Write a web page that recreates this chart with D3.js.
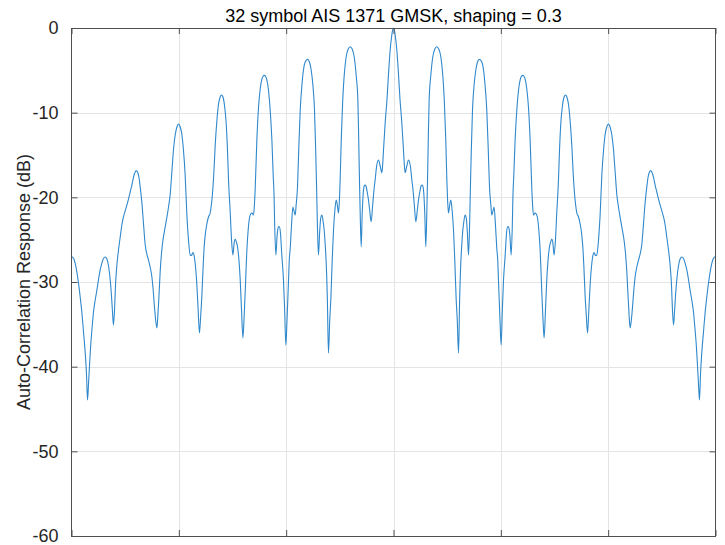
<!DOCTYPE html>
<html>
<head>
<meta charset="utf-8">
<script src="https://cdn.jsdelivr.net/npm/d3@7"></script>
<style>
  html, body { margin: 0; padding: 0; background: #fff; }
  svg { display: block; }
</style>
</head>
<body>
<svg id="chart" width="725" height="545"></svg>
<script>
// ---- data (lag in samples, response in dB) ----
const lagsLeft = [-30.00,-29.80,-29.66,-29.50,-29.35,-29.19,-29.03,-28.88,-28.72,-28.60,-28.51,-28.42,-28.32,-28.21,-28.10,-27.95,-27.79,-27.63,-27.49,-27.33,-27.17,-27.02,-26.86,-26.70,-26.55,-26.40,-26.28,-26.18,-26.09,-25.99,-25.90,-25.77,-25.62,-25.46,-25.31,-25.16,-25.00,-24.84,-24.69,-24.53,-24.37,-24.22,-24.07,-23.97,-23.85,-23.72,-23.60,-23.44,-23.29,-23.13,-22.98,-22.83,-22.67,-22.51,-22.39,-22.27,-22.16,-22.04,-21.95,-21.86,-21.74,-21.62,-21.49,-21.27,-21.11,-20.96,-20.81,-20.65,-20.50,-20.34,-20.18,-20.03,-19.87,-19.71,-19.57,-19.41,-19.25,-19.10,-18.94,-18.82,-18.69,-18.57,-18.48,-18.32,-18.20,-18.08,-17.96,-17.85,-17.73,-17.64,-17.52,-17.39,-17.24,-17.08,-16.97,-16.86,-16.75,-16.61,-16.45,-16.30,-16.15,-16.03,-15.89,-15.75,-15.59,-15.45,-15.37,-15.21,-15.09,-14.96,-14.84,-14.75,-14.64,-14.53,-14.40,-14.28,-14.16,-14.03,-13.93,-13.82,-13.72,-13.66,-13.54,-13.42,-13.30,-13.19,-13.12,-13.04,-12.96,-12.89,-12.73,-12.58,-12.42,-12.26,-12.14,-12.05,-11.93,-11.80,-11.65,-11.49,-11.33,-11.21,-11.13,-11.07,-10.96,-10.84,-10.74,-10.65,-10.54,-10.40,-10.25,-10.14,-10.03,-9.92,-9.78,-9.72,-9.62,-9.50,-9.37,-9.27,-9.16,-9.07,-8.94,-8.83,-8.69,-8.53,-8.39,-8.23,-8.01,-7.83,-7.67,-7.51,-7.36,-7.25,-7.17,-7.09,-6.99,-6.88,-6.78,-6.67,-6.55,-6.46,-6.36,-6.27,-6.16,-6.06,-5.94,-5.83,-5.71,-5.59,-5.46,-5.34,-5.25,-5.12,-5.04,-4.97,-4.87,-4.73,-4.59,-4.41,-4.22,-4.03,-3.85,-3.66,-3.48,-3.32,-3.24,-3.17,-3.10,-3.01,-2.92,-2.82,-2.73,-2.64,-2.54,-2.45,-2.33,-2.22,-2.08,-1.94,-1.80,-1.71,-1.57,-1.40,-1.24,-1.08,-1.01,-0.93,-0.77,-0.61,-0.47,-0.31,-0.17,-0.08,0.00];
const dbLeft = [-26.99,-27.22,-27.76,-28.82,-30.12,-31.77,-33.66,-35.91,-38.39,-40.98,-43.94,-42.17,-39.80,-37.44,-35.67,-33.54,-32.13,-30.94,-29.76,-28.58,-27.76,-27.22,-27.05,-27.28,-28.11,-29.65,-31.54,-33.54,-35.08,-33.31,-30.35,-27.99,-26.22,-24.68,-23.27,-22.32,-21.61,-20.91,-20.20,-19.37,-18.54,-17.60,-17.01,-16.85,-17.01,-17.60,-18.78,-20.67,-23.15,-25.63,-26.69,-27.40,-28.23,-29.41,-30.94,-32.95,-34.49,-35.43,-33.90,-31.89,-28.82,-26.69,-25.16,-23.50,-22.32,-21.14,-19.72,-17.01,-14.41,-12.64,-11.69,-11.34,-11.69,-12.64,-14.41,-17.36,-22.09,-25.04,-26.81,-26.87,-26.52,-26.93,-27.76,-30.35,-33.31,-36.02,-33.90,-31.54,-27.99,-25.87,-24.21,-23.15,-22.32,-21.85,-20.91,-19.49,-17.36,-13.82,-10.87,-8.98,-8.15,-7.91,-8.15,-9.09,-11.22,-15.00,-17.95,-21.85,-25.04,-26.81,-25.28,-24.92,-25.28,-25.87,-27.40,-29.76,-33.31,-36.61,-34.49,-31.30,-27.99,-26.22,-23.86,-22.44,-21.97,-21.85,-21.97,-22.09,-20.91,-19.13,-13.23,-9.45,-7.20,-6.02,-5.67,-5.59,-5.67,-6.14,-7.32,-9.69,-13.23,-17.36,-19.72,-23.27,-26.81,-24.45,-23.56,-23.44,-24.09,-26.93,-29.76,-33.31,-37.44,-34.49,-29.76,-27.64,-25.98,-23.27,-21.14,-21.61,-22.09,-20.91,-18.66,-14.41,-9.69,-6.73,-4.96,-4.02,-3.70,-4.02,-4.96,-6.73,-9.69,-14.41,-18.54,-23.27,-26.81,-24.09,-22.44,-22.09,-22.91,-23.86,-25.63,-27.76,-32.13,-38.39,-34.49,-31.77,-27.40,-23.86,-21.50,-20.31,-20.79,-21.85,-20.31,-17.95,-13.23,-8.50,-5.55,-3.43,-2.48,-2.21,-2.48,-3.43,-5.55,-8.50,-13.23,-17.95,-22.09,-25.83,-22.09,-19.49,-18.66,-18.54,-18.78,-19.37,-20.31,-21.50,-22.88,-20.91,-18.90,-17.95,-16.30,-15.59,-16.30,-17.09,-16.18,-14.41,-11.10,-8.50,-5.55,-2.60,-0.94,-0.25,0.00];
const lagsRight = [0.08,0.17,0.31,0.47,0.61,0.77,0.93,1.01,1.08,1.24,1.40,1.57,1.71,1.80,1.94,2.08,2.22,2.33,2.45,2.54,2.64,2.73,2.82,2.92,3.01,3.10,3.17,3.24,3.32,3.48,3.66,3.85,4.03,4.22,4.41,4.59,4.73,4.87,4.97,5.04,5.12,5.25,5.34,5.46,5.59,5.71,5.83,5.94,6.06,6.16,6.27,6.36,6.46,6.55,6.67,6.78,6.88,6.99,7.09,7.17,7.25,7.36,7.51,7.67,7.83,8.01,8.23,8.39,8.53,8.69,8.83,8.94,9.07,9.16,9.27,9.37,9.50,9.62,9.72,9.78,9.92,10.03,10.14,10.25,10.40,10.54,10.65,10.74,10.84,10.96,11.07,11.13,11.21,11.33,11.49,11.65,11.80,11.93,12.05,12.14,12.26,12.42,12.58,12.73,12.89,12.96,13.04,13.12,13.19,13.30,13.42,13.54,13.66,13.72,13.82,13.93,14.03,14.16,14.28,14.40,14.53,14.64,14.75,14.84,14.96,15.09,15.21,15.37,15.45,15.59,15.75,15.89,16.03,16.15,16.30,16.45,16.61,16.75,16.86,16.97,17.08,17.24,17.39,17.52,17.64,17.73,17.85,17.96,18.08,18.20,18.32,18.48,18.57,18.69,18.82,18.94,19.10,19.25,19.41,19.57,19.71,19.87,20.03,20.18,20.34,20.50,20.65,20.81,20.96,21.11,21.27,21.49,21.62,21.74,21.86,21.95,22.04,22.16,22.27,22.39,22.51,22.67,22.83,22.98,23.13,23.29,23.44,23.60,23.72,23.85,23.97,24.07,24.22,24.37,24.53,24.69,24.84,25.00,25.16,25.31,25.46,25.62,25.77,25.90,25.99,26.09,26.18,26.28,26.40,26.55,26.70,26.86,27.02,27.17,27.33,27.49,27.63,27.79,27.95,28.10,28.21,28.32,28.42,28.51,28.60,28.72,28.88,29.03,29.19,29.35,29.50,29.66,29.80,30.00];
const dbRight = [-0.25,-0.94,-2.60,-5.55,-8.50,-11.10,-14.41,-16.18,-17.09,-16.30,-15.59,-16.30,-17.95,-18.90,-20.91,-22.88,-21.50,-20.31,-19.37,-18.78,-18.54,-18.66,-19.49,-22.09,-25.83,-22.09,-17.95,-13.23,-8.50,-5.55,-3.43,-2.48,-2.21,-2.48,-3.43,-5.55,-8.50,-13.23,-17.95,-20.31,-21.85,-20.79,-20.31,-21.50,-23.86,-27.40,-31.77,-34.49,-38.39,-32.13,-27.76,-25.63,-23.86,-22.91,-22.09,-22.44,-24.09,-26.81,-23.27,-18.54,-14.41,-9.69,-6.73,-4.96,-4.02,-3.70,-4.02,-4.96,-6.73,-9.69,-14.41,-18.66,-20.91,-22.09,-21.61,-21.14,-23.27,-25.98,-27.64,-29.76,-34.49,-37.44,-33.31,-29.76,-26.93,-24.09,-23.44,-23.56,-24.45,-26.81,-23.27,-19.72,-17.36,-13.23,-9.69,-7.32,-6.14,-5.67,-5.59,-5.67,-6.02,-7.20,-9.45,-13.23,-19.13,-20.91,-22.09,-21.97,-21.85,-21.97,-22.44,-23.86,-26.22,-27.99,-31.30,-34.49,-36.61,-33.31,-29.76,-27.40,-25.87,-25.28,-24.92,-25.28,-26.81,-25.04,-21.85,-17.95,-15.00,-11.22,-9.09,-8.15,-7.91,-8.15,-8.98,-10.87,-13.82,-17.36,-19.49,-20.91,-21.85,-22.32,-23.15,-24.21,-25.87,-27.99,-31.54,-33.90,-36.02,-33.31,-30.35,-27.76,-26.93,-26.52,-26.87,-26.81,-25.04,-22.09,-17.36,-14.41,-12.64,-11.69,-11.34,-11.69,-12.64,-14.41,-17.01,-19.72,-21.14,-22.32,-23.50,-25.16,-26.69,-28.82,-31.89,-33.90,-35.43,-34.49,-32.95,-30.94,-29.41,-28.23,-27.40,-26.69,-25.63,-23.15,-20.67,-18.78,-17.60,-17.01,-16.85,-17.01,-17.60,-18.54,-19.37,-20.20,-20.91,-21.61,-22.32,-23.27,-24.68,-26.22,-27.99,-30.35,-33.31,-35.08,-33.54,-31.54,-29.65,-28.11,-27.28,-27.05,-27.22,-27.76,-28.58,-29.76,-30.94,-32.13,-33.54,-35.67,-37.44,-39.80,-42.17,-43.94,-40.98,-38.39,-35.91,-33.66,-31.77,-30.12,-28.82,-27.76,-27.22,-26.99];
const xTicks = [-30, -20, -10, 0, 10, 20, 30];
const yTicks = [-60, -50, -40, -30, -20, -10, 0];
const titleText = "32 symbol AIS 1371 GMSK, shaping = 0.3";
const yLabelText = "Auto-Correlation Response (dB)";

// ---- layout ----
const svg = d3.select("#chart");
const L = 71.5, R = 715.5, T = 28, B = 536;
const x = d3.scaleLinear().domain([-30, 30]).range([L, R]);
const y = d3.scaleLinear().domain([-60, 0]).range([B, T]);
const font = "'Liberation Sans', Arial, Helvetica, sans-serif";
const axisColor = "#505050";

svg.append("rect").attr("width", 725).attr("height", 545).attr("fill", "#fff");

// grid
const grid = svg.append("g");
grid.selectAll("line.gx").data(xTicks.filter(d => d > -30 && d < 30)).join("line")
  .attr("x1", d => Math.round(x(d)) + 0.5).attr("x2", d => Math.round(x(d)) + 0.5)
  .attr("y1", T).attr("y2", B).attr("stroke", "#e4e4e4").attr("stroke-width", 1);
grid.selectAll("line.gy").data(yTicks.filter(d => d > -60 && d < 0)).join("line")
  .attr("y1", d => Math.round(y(d)) + 0.5).attr("y2", d => Math.round(y(d)) + 0.5)
  .attr("x1", L).attr("x2", R).attr("stroke", "#e4e4e4").attr("stroke-width", 1);

// data line
const pts = d3.zip(lagsLeft.concat(lagsRight), dbLeft.concat(dbRight));
const line = d3.line().x(d => x(d[0])).y(d => y(d[1])).curve(d3.curveMonotoneX);
svg.append("path").datum(pts).attr("d", line)
  .attr("fill", "none").attr("stroke", "#2f88cc").attr("stroke-width", 1.1)
  .attr("stroke-linejoin", "round");

// axes (inward ticks on all four sides)
function styleAxis(g) {
  g.select(".domain").remove();
  g.selectAll(".tick line").attr("stroke", axisColor).attr("stroke-width", 1);
  g.selectAll(".tick text").attr("fill", "#262626").style("font-family", font).style("font-size", "18px");
}
svg.append("g").attr("transform", `translate(${L},0)`)
  .call(d3.axisLeft(y).tickValues(yTicks).tickSize(-6).tickPadding(13).tickFormat(d => String(d)))
  .call(styleAxis);
svg.append("g").attr("transform", `translate(${R},0)`)
  .call(d3.axisRight(y).tickValues(yTicks).tickSize(-6).tickFormat(""))
  .call(styleAxis);
svg.append("g").attr("transform", `translate(0,${T})`)
  .call(d3.axisTop(x).tickValues(xTicks).tickSize(-6).tickFormat(""))
  .call(styleAxis);
svg.append("g").attr("transform", `translate(0,${B})`)
  .call(d3.axisBottom(x).tickValues(xTicks).tickSize(-6).tickFormat(""))
  .call(styleAxis);

// box
svg.append("rect").attr("x", L).attr("y", T + 0.5).attr("width", R - L).attr("height", B - T)
  .attr("fill", "none").attr("stroke", axisColor).attr("stroke-width", 1);

// title
svg.append("text").attr("x", (L + R) / 2).attr("y", 21.5).attr("text-anchor", "middle")
  .style("font-family", font).style("font-size", "18px").attr("fill", "#000").text(titleText);

// y label
svg.append("text").attr("transform", `translate(30,${(T + B) / 2}) rotate(-90)`)
  .attr("text-anchor", "middle").style("font-family", font).style("font-size", "18px")
  .attr("fill", "#262626").text(yLabelText);
</script>
</body>
</html>
